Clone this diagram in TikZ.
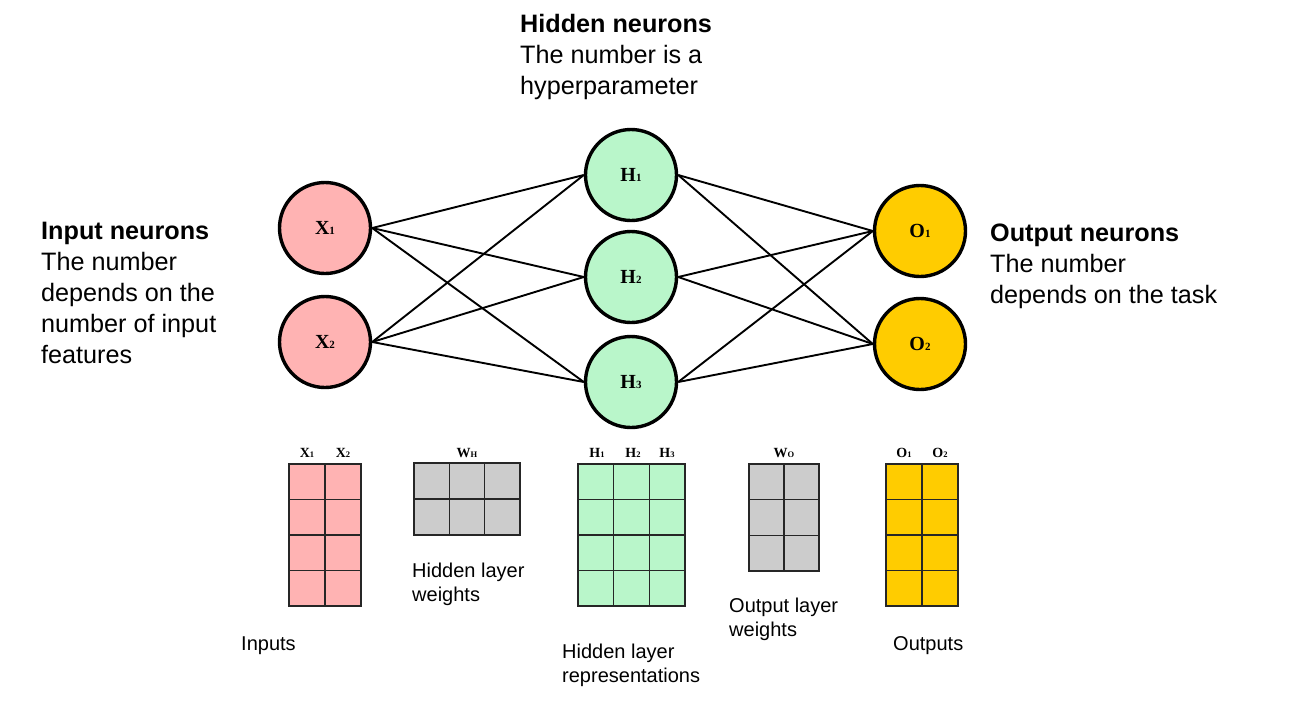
\documentclass[tikz,border=0pt]{standalone}
\usepackage{fontspec}
\setmainfont{Liberation Sans}
\newfontfamily\nnserif{Liberation Serif}
\definecolor{inpink}{HTML}{FFB3B3}
\definecolor{hidgreen}{HTML}{B9F6CA}
\definecolor{outyellow}{HTML}{FFCC00}
\definecolor{wgray}{HTML}{CCCCCC}
\newcommand\nlab[2]{{\nnserif\bfseries\fontsize{20}{20}\selectfont #1{\fontsize{11}{11}\selectfont #2}}}
\newcommand\hlab[2]{{\nnserif\bfseries\fontsize{14}{14}\selectfont #1{\fontsize{8.5}{8.5}\selectfont #2}}}
\newcommand\mgrid[7]{% x0,y0,cols,rows,cw,ch,color
  \foreach \i in {1,...,#3}{\foreach \j in {1,...,#4}{
    \draw[cellbox,fill=#7] ({#1+(\i-1)*#5},{#2+(\j-1)*#6}) rectangle ++(#5,#6);}}
  \draw[cellbox] (#1,#2) rectangle ++({#3*#5},{#4*#6});
}
\tikzset{
  neuron/.style={circle,draw=black,line width=3.4pt,minimum size=91pt,inner sep=0pt},
  link/.style={line width=1.9pt,black},
  cellbox/.style={line width=1.3pt,draw=black!85},
  bigtxt/.style={anchor=base west,align=left,inner sep=0pt,font=\fontsize{25.2}{31}\selectfont},
  smalltxt/.style={anchor=base west,align=left,inner sep=0pt,font=\fontsize{20}{24}\selectfont},
  hdr/.style={anchor=base,inner sep=0pt}
}
\begin{document}
\begin{tikzpicture}[x=1pt,y=-1pt]
\useasboundingbox[fill=white] (0,0) rectangle (1289,716);
% neurons
\node[neuron,fill=inpink] (X1) at (325,228) {\nlab{X}{1}};
\node[neuron,fill=inpink] (X2) at (325,342) {\nlab{X}{2}};
\node[neuron,fill=hidgreen] (H1) at (631,175) {\nlab{H}{1}};
\node[neuron,fill=hidgreen] (H2) at (631,277) {\nlab{H}{2}};
\node[neuron,fill=hidgreen] (H3) at (631,382) {\nlab{H}{3}};
\node[neuron,fill=outyellow] (O1) at (920,231) {\nlab{O}{1}};
\node[neuron,fill=outyellow] (O2) at (920,344) {\nlab{O}{2}};
% connections
\foreach \a in {X1,X2}{\foreach \b in {H1,H2,H3}{\draw[link] (\a.east) -- (\b.west);}}
\foreach \a in {H1,H2,H3}{\foreach \b in {O1,O2}{\draw[link] (\a.east) -- (\b.west);}}
% titles (base anchor = last line's baseline)
\node[bigtxt] (thid) at (520,94) {\textbf{Hidden neurons}\\The number is a\\hyperparameter};
\node[bigtxt] (tin) at (41,363) {\textbf{Input neurons}\\The number\\depends on the\\number of input\\features};
\node[bigtxt] (tout) at (990,303) {\textbf{Output neurons}\\The number\\depends on the task};
% matrices
\mgrid{289}{464}{2}{4}{36}{35.5}{inpink}
\mgrid{414}{463}{3}{2}{35.3}{36}{wgray}
\mgrid{578}{464}{3}{4}{35.7}{35.5}{hidgreen}
\mgrid{749}{464}{2}{3}{35}{35.7}{wgray}
\mgrid{886}{464}{2}{4}{36}{35.5}{outyellow}
% headers
\node[hdr] (hx1) at (307,457) {\hlab{X}{1}};
\node[hdr] (hx2) at (343,457) {\hlab{X}{2}};
\node[hdr] (hwh) at (467,457) {\hlab{W}{H}};
\node[hdr] (hh1) at (597,457) {\hlab{H}{1}};
\node[hdr] (hh2) at (633,457) {\hlab{H}{2}};
\node[hdr] (hh3) at (667,457) {\hlab{H}{3}};
\node[hdr] (hwo) at (784,457) {\hlab{W}{O}};
\node[hdr] (ho1) at (904,457) {\hlab{O}{1}};
\node[hdr] (ho2) at (940,457) {\hlab{O}{2}};
% captions
\node[smalltxt] (cin) at (241,650) {Inputs};
\node[smalltxt] (cwh) at (412,601) {Hidden layer\\weights};
\node[smalltxt] (chid) at (562,682) {Hidden layer\\representations};
\node[smalltxt] (cwo) at (729,636) {Output layer\\weights};
\node[smalltxt] (cout) at (893,650) {Outputs};
\end{tikzpicture}
\end{document}
